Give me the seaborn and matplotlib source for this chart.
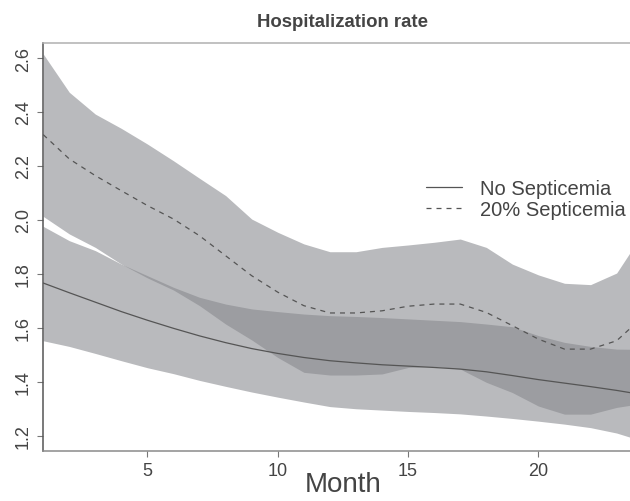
import numpy as np
import pandas as pd
import matplotlib
matplotlib.use("Agg")
import matplotlib.pyplot as plt
import seaborn as sns

# Monthly hospitalization rate estimates with pointwise bands
months = list(range(1, 25))

no_sept_mean = [1.766, 1.730, 1.695, 1.660, 1.628, 1.598, 1.570, 1.545, 1.523, 1.505,
                1.490, 1.478, 1.470, 1.463, 1.458, 1.453, 1.447, 1.437, 1.423, 1.408,
                1.395, 1.382, 1.368, 1.352]
no_sept_upper = [1.976, 1.923, 1.886, 1.836, 1.793, 1.750, 1.713, 1.688, 1.670, 1.660,
                 1.651, 1.645, 1.642, 1.638, 1.633, 1.628, 1.623, 1.614, 1.604, 1.571,
                 1.546, 1.531, 1.521, 1.520]
no_sept_lower = [1.552, 1.531, 1.505, 1.478, 1.452, 1.430, 1.405, 1.383, 1.362, 1.343,
                 1.325, 1.308, 1.300, 1.295, 1.290, 1.286, 1.281, 1.273, 1.264, 1.254,
                 1.243, 1.230, 1.210, 1.180]

sept_mean = [2.316, 2.226, 2.164, 2.108, 2.053, 2.003, 1.941, 1.867, 1.793, 1.732,
             1.682, 1.655, 1.655, 1.663, 1.680, 1.688, 1.688, 1.657, 1.608, 1.558,
             1.521, 1.521, 1.552, 1.640]
sept_upper = [2.615, 2.473, 2.392, 2.339, 2.281, 2.219, 2.154, 2.090, 2.003, 1.954,
              1.911, 1.882, 1.882, 1.898, 1.907, 1.917, 1.929, 1.898, 1.836, 1.796,
              1.765, 1.760, 1.803, 1.950]
sept_lower = [2.013, 1.948, 1.898, 1.836, 1.785, 1.740, 1.682, 1.614, 1.555, 1.490,
              1.435, 1.425, 1.425, 1.429, 1.453, 1.457, 1.447, 1.398, 1.360, 1.310,
              1.280, 1.280, 1.305, 1.320]

series_labels = ["No Septicemia", "20% Septicemia"]
x_ticks = [5, 10, 15, 20]
y_ticks = [1.2, 1.4, 1.6, 1.8, 2.0, 2.2, 2.4, 2.6]

sns.set_style("white")
plt.rcParams["font.family"] = ["Liberation Sans", "DejaVu Sans"]

band_color = "#b9babd"
overlap_color = "#9c9da1"
line_color = "#555555"
text_color = "#444444"

df = pd.DataFrame({
    "Month": months * 2,
    "Rate": no_sept_mean + sept_mean,
    "Group": [series_labels[0]] * len(months) + [series_labels[1]] * len(months),
})

fig = plt.figure(figsize=(6.3, 5.02), dpi=100)
ax = fig.add_axes([43.2 / 630, 50 / 502, 599.5 / 630, 408 / 502])

x = np.array(months, dtype=float)
lo_a, hi_a = np.array(no_sept_lower), np.array(no_sept_upper)
lo_b, hi_b = np.array(sept_lower), np.array(sept_upper)

# individual bands, then their common region in a darker shade
ax.fill_between(x, lo_a, hi_a, color=band_color, linewidth=0, zorder=1)
ax.fill_between(x, lo_b, hi_b, color=band_color, linewidth=0, zorder=1)
ov_lo = np.maximum(lo_a, lo_b)
ov_hi = np.minimum(hi_a, hi_b)
ax.fill_between(x, ov_lo, ov_hi, where=ov_hi > ov_lo, interpolate=True,
                color=overlap_color, linewidth=0, zorder=2)

sns.lineplot(data=df[df["Group"] == series_labels[0]], x="Month", y="Rate",
             color=line_color, linewidth=0.9, label=series_labels[0], ax=ax, zorder=3)
sns.lineplot(data=df[df["Group"] == series_labels[1]], x="Month", y="Rate",
             color=line_color, linewidth=0.9, linestyle=(0, (4.0, 4.0)),
             label=series_labels[1], ax=ax, zorder=3)

ax.set_xlim(1, 24)
ax.set_ylim(1.1434, 2.6556)
ax.set_xticks(x_ticks)
ax.set_xticklabels([str(t) for t in x_ticks])
ax.set_yticks(y_ticks)
ax.set_yticklabels([f"{t:.1f}" for t in y_ticks])

ax.tick_params(axis="both", which="major", direction="out", length=4.5, width=0.8,
               color="#777777", labelcolor=text_color, labelsize=13, pad=3.5,
               left=True, bottom=True)
ax.tick_params(axis="y", labelrotation=90, pad=3.5)
for lab in ax.get_yticklabels():
    lab.set_verticalalignment("center")

for side, col in [("left", "#555555"), ("bottom", "#8a8a8a"), ("top", "#b0b0b0"),
                  ("right", "#b0b0b0")]:
    ax.spines[side].set_visible(True)
    ax.spines[side].set_color(col)
    ax.spines[side].set_linewidth(1.1)

ax.set_xlabel("Month", fontsize=20, color=text_color, labelpad=-5.5)
ax.set_ylabel("")
ax.set_title("Hospitalization rate", fontsize=13.4, fontweight="bold",
             color=text_color, pad=12.5)

leg = ax.legend(loc="upper left", bbox_to_anchor=(426 / 630, 1 - 180 / 502),
                bbox_transform=fig.transFigure, frameon=False, fontsize=14.5,
                handlelength=1.8, handletextpad=0.9, labelspacing=0.08,
                borderpad=0, borderaxespad=0)
for t in leg.get_texts():
    t.set_color(text_color)

fig.savefig("out.png", dpi=100)
